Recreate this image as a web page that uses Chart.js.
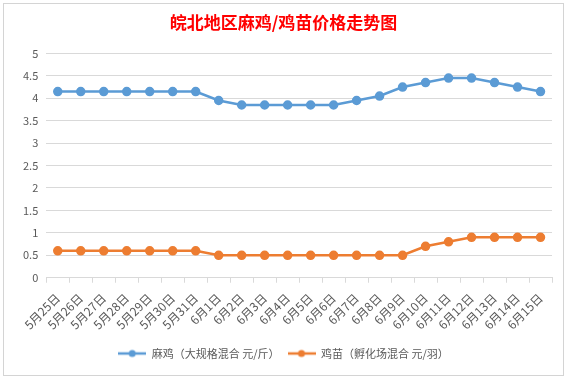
<!DOCTYPE html>
<html><head><meta charset="utf-8">
<script src="https://cdn.jsdelivr.net/npm/chart.js@4/dist/chart.umd.min.js"></script>
<style>
html,body{margin:0;padding:0;background:#fff;}
#frame{position:absolute;left:3px;top:3px;width:559px;height:371px;border:1px solid #d4d4d4;background:#fff;}
#wrap{position:absolute;left:0;top:0;width:568px;height:379px;}
</style></head>
<body>
<div id="frame"></div>
<div id="wrap"><canvas id="c" width="568" height="379"></canvas></div>
<script>
const categories = ["5月25日","5月26日","5月27日","5月28日","5月29日","5月30日","5月31日","6月1日","6月2日","6月3日","6月4日","6月5日","6月6日","6月7日","6月8日","6月9日","6月10日","6月11日","6月12日","6月13日","6月14日","6月15日"];
const majiPrice = [4.15,4.15,4.15,4.15,4.15,4.15,4.15,3.95,3.85,3.85,3.85,3.85,3.85,3.95,4.05,4.25,4.35,4.45,4.45,4.35,4.25,4.15];
const jimiaoPrice = [0.6,0.6,0.6,0.6,0.6,0.6,0.6,0.5,0.5,0.5,0.5,0.5,0.5,0.5,0.5,0.5,0.7,0.8,0.9,0.9,0.9,0.9];
const seriesNames = ["麻鸡（大规格混合 元/斤）","鸡苗（孵化场混合 元/羽）"];
const titleText = "皖北地区麻鸡/鸡苗价格走势图";
const yTicks = [0,0.5,1,1.5,2,2.5,3,3.5,4,4.5,5];

const colors = ["#5B9BD5","#ED7D31"];
function legendIcon(color){
  const cv=document.createElement('canvas'); cv.width=28; cv.height=10;
  const g=cv.getContext('2d');
  g.strokeStyle=color; g.lineWidth=2.5; g.beginPath(); g.moveTo(0,5); g.lineTo(28,5); g.stroke();
  g.fillStyle=color; g.beginPath(); g.arc(14,5,3.5,0,Math.PI*2); g.fill();
  return cv;
}
const icons = colors.map(legendIcon);
const font = "'Noto Sans CJK SC', 'Open Sans', sans-serif";
new Chart(document.getElementById('c'), {
  type:'line',
  data:{labels:categories, datasets:[
    {label:seriesNames[0], data:majiPrice, borderColor:colors[0], backgroundColor:colors[0], borderWidth:2.5, pointRadius:3.5, pointHoverRadius:3.5, tension:0},
    {label:seriesNames[1], data:jimiaoPrice, borderColor:colors[1], backgroundColor:colors[1], borderWidth:2.5, pointRadius:3.5, pointHoverRadius:3.5, tension:0}
  ]},
  options:{
    responsive:false, animation:false,
    layout:{padding:{left:15,right:16,top:6,bottom:10}},
    plugins:{
      title:{display:true, text:titleText, color:'#FF0000', font:{family:font, size:17, weight:'bold'}, padding:{top:6,bottom:21}},
      legend:{position:'bottom', labels:{usePointStyle:true, pointStyleWidth:28, color:'#595959', font:{family:font,size:11}, padding:8,
        generateLabels:(chart)=>chart.data.datasets.map((d,i)=>({text:d.label, pointStyle:icons[i], fillStyle:colors[i], strokeStyle:colors[i], lineWidth:0, hidden:false, datasetIndex:i, fontColor:'#595959'}))}},
      tooltip:{enabled:false}
    },
    scales:{
      x:{offset:true, grid:{display:true, drawOnChartArea:false, drawTicks:true, tickLength:5, offset:true, color:'#d9d9d9'}, border:{color:'#d9d9d9'},
         ticks:{color:'#595959', font:{family:font,size:12}, minRotation:45, maxRotation:45, autoSkip:false, padding:8}},
      y:{min:0, max:5, afterBuildTicks:(s)=>{s.ticks=yTicks.map(v=>({value:v}));}, grid:{color:'#d9d9d9', drawTicks:false}, border:{display:false},
         ticks:{color:'#595959', font:{family:font,size:11}, padding:8, callback:(v)=>String(v)}}
    }
  }
});
</script>
</body></html>
